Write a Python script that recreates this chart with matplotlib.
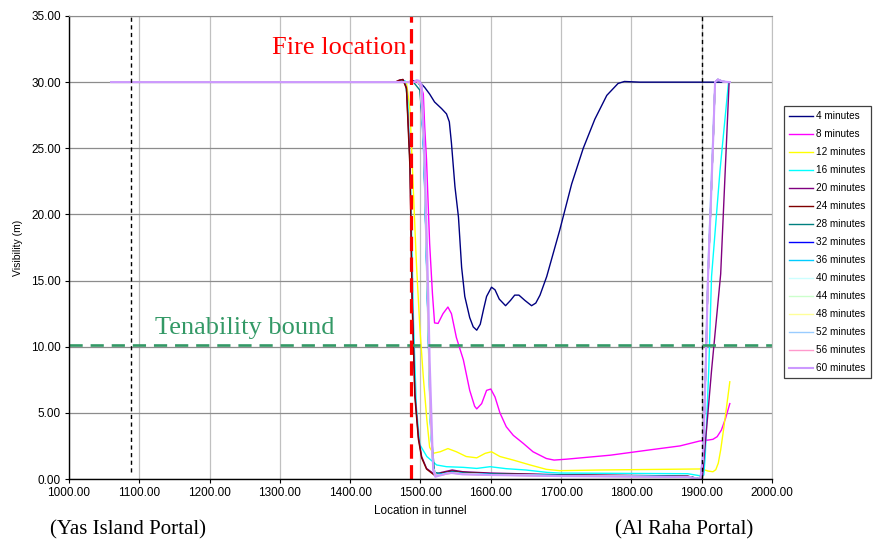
import matplotlib
matplotlib.use("Agg")
import matplotlib.pyplot as plt

# ---------------- data ----------------
labels = ["4 minutes", "8 minutes", "12 minutes", "16 minutes", "20 minutes",
          "24 minutes", "28 minutes", "32 minutes", "36 minutes", "40 minutes",
          "44 minutes", "48 minutes", "52 minutes", "56 minutes", "60 minutes"]
colors = ["#000080", "#FF00FF", "#FFFF00", "#00FFFF", "#800080",
          "#800000", "#008080", "#0000FF", "#00CCFF", "#CCFFFF",
          "#CCFFCC", "#FFFF99", "#99CCFF", "#FF99CC", "#CC99FF"]

x04 = [1060, 1480, 1490, 1499, 1506, 1513, 1520, 1530, 1537, 1541, 1544, 1549, 1554, 1558.5, 1563,
       1570, 1575, 1580, 1585, 1590, 1594, 1601, 1606, 1612, 1621, 1628, 1634, 1640, 1648.5, 1658,
       1664, 1670, 1679.5, 1689, 1698, 1715, 1731.5, 1748, 1765, 1781, 1790, 1812, 1940]
y04 = [30, 30, 30.1, 30.0, 29.6, 29.1, 28.5, 28.0, 27.6, 27.0, 25.4, 22.1, 19.8, 16.0, 13.8,
       12.2, 11.5, 11.25, 11.7, 12.9, 13.8, 14.5, 14.3, 13.6, 13.1, 13.5, 13.9, 13.9, 13.5, 13.1,
       13.3, 13.9, 15.3, 17.1, 18.8, 22.3, 25.0, 27.2, 29.0, 29.9, 30.05, 30, 30]

x08 = [1060, 1499, 1504, 1506, 1508.6, 1513, 1517, 1520, 1525, 1532, 1539, 1544, 1551, 1561, 1570,
       1577, 1580, 1587, 1594, 1600, 1606, 1613, 1622, 1632, 1646, 1660, 1679, 1690, 1708, 1770,
       1826, 1869, 1897, 1910, 1916, 1922, 1928, 1934, 1940]
y08 = [30, 30, 29.1, 26.6, 24.1, 17.8, 14.0, 11.8, 11.76, 12.5, 13.0, 12.5, 10.7, 9.0, 6.7,
       5.5, 5.3, 5.7, 6.7, 6.8, 6.2, 5.0, 3.95, 3.3, 2.7, 2.06, 1.55, 1.43, 1.5, 1.8,
       2.2, 2.5, 2.87, 2.95, 3.0, 3.2, 3.7, 4.6, 5.7]

x12 = [1060, 1480, 1485, 1490, 1494, 1499, 1504, 1509, 1513, 1518, 1528, 1539, 1551, 1565, 1580,
       1592, 1601, 1613, 1632, 1656, 1679, 1698, 1755, 1900, 1909, 1916, 1920, 1923.6, 1927, 1931,
       1935, 1940]
y12 = [30, 30, 27.9, 21.6, 16.5, 11.5, 7.7, 4.5, 2.4, 1.94, 2.06, 2.3, 2.06, 1.7, 1.6,
       1.94, 2.06, 1.7, 1.43, 1.06, 0.73, 0.63, 0.68, 0.76, 0.6, 0.55, 0.7, 1.2, 2.2, 3.7,
       5.3, 7.35]

x16 = [1060, 1466, 1472, 1478, 1482, 1486, 1490, 1494, 1499, 1509, 1523, 1537, 1561, 1580, 1599, 1622,
       1650, 1680, 1698, 1800, 1880, 1897, 1903, 1905, 1910, 1914, 1926, 1938, 1940]
y16 = [30, 30, 30.15, 30.1, 28.5, 22.0, 12.0, 5.5, 2.6, 1.7, 1.06, 0.93, 0.88, 0.8, 0.93, 0.78,
       0.68, 0.5, 0.45, 0.42, 0.4, 0.25, 0.3, 1.7, 8.2, 15.3, 23.3, 29.9, 30]

x20 = [1060, 1464, 1470, 1475, 1480, 1485, 1488, 1492, 1497, 1501.6, 1508.6, 1520, 1530, 1545, 1560,
       1600, 1700, 1800, 1880, 1896, 1901, 1914, 1927, 1939, 1940]
y20 = [30, 30, 30.15, 30.2, 29.6, 24.1, 14.0, 6.5, 3.2, 1.7, 0.8, 0.35, 0.5, 0.68, 0.55,
       0.45, 0.32, 0.27, 0.22, 0.02, 0.1, 8.2, 15.5, 30, 30]

x24 = [1060, 1464, 1470, 1475, 1480, 1485, 1488, 1492, 1497, 1501.6, 1508.6, 1520, 1530, 1545, 1560,
       1600, 1700, 1800, 1880, 1898, 1902, 1905.6, 1909, 1913, 1916.5, 1919, 1923, 1930, 1940]
y24 = [30, 30, 30.15, 30.2, 29.5, 23.5, 13.5, 6.2, 3.0, 1.6, 0.75, 0.28, 0.45, 0.6, 0.5,
       0.4, 0.3, 0.25, 0.2, 0.0, 1.7, 8.2, 15.3, 20.8, 25.9, 30.0, 30.2, 30.05, 30]

x28 = [1060, 1490, 1499, 1504, 1508, 1512, 1516, 1520, 1530, 1545, 1560, 1600, 1700, 1800, 1880,
       1898, 1902, 1905.6, 1909, 1913, 1916.5, 1919, 1923, 1930, 1940]
y28 = [30, 30, 29.4, 26.0, 18.0, 9.0, 3.0, 0.5, 0.4, 0.55, 0.45, 0.38, 0.28, 0.23, 0.18,
       0.0, 1.7, 8.2, 15.3, 20.8, 25.9, 30.0, 30.2, 30.05, 30]

x32 = [1060, 1490, 1495, 1500, 1505, 1510, 1514, 1518, 1521, 1530, 1545, 1560, 1600, 1700, 1800,
       1880, 1898, 1902, 1905.6, 1909, 1913, 1916.5, 1919, 1923, 1930, 1940]
y32 = [30, 30, 30.1, 29.7, 24.5, 13.5, 4.5, 0.8, 0.3, 0.35, 0.5, 0.4, 0.33, 0.25, 0.2,
       0.17, 0.0, 1.7, 8.2, 15.3, 20.8, 25.9, 30.0, 30.2, 30.05, 30]

x36 = [1060, 1490, 1495, 1500, 1505, 1510, 1514, 1518, 1522, 1530, 1545, 1560, 1600, 1700, 1800,
       1880, 1898, 1902, 1905.6, 1909, 1913, 1916.5, 1919, 1923, 1930, 1940]
y36 = [30, 30, 30.1, 29.7, 24.0, 13.0, 4.2, 0.9, 0.35, 0.38, 0.5, 0.42, 0.35, 0.27, 0.22,
       0.18, 0.0, 1.7, 8.2, 15.3, 20.8, 25.9, 30.0, 30.2, 30.05, 30]

x40 = [1060, 1490, 1495, 1500, 1505, 1510, 1514, 1518, 1522, 1530, 1545, 1560, 1600, 1700, 1800,
       1880, 1898, 1902, 1905.6, 1909, 1913, 1916.5, 1919, 1923, 1930, 1940]
y40 = [30, 30, 30.1, 29.8, 24.8, 13.8, 4.6, 0.8, 0.3, 0.33, 0.47, 0.4, 0.32, 0.25, 0.2,
       0.16, 0.0, 1.7, 8.2, 15.3, 20.8, 25.9, 30.0, 30.2, 30.05, 30]

x44 = [1060, 1490, 1495, 1500, 1505, 1510, 1514, 1518, 1522, 1530, 1545, 1560, 1600, 1700, 1800,
       1880, 1898, 1902, 1905.6, 1909, 1913, 1916.5, 1919, 1923, 1930, 1940]
y44 = [30, 30, 30.1, 29.8, 25.0, 14.0, 4.8, 0.8, 0.3, 0.32, 0.46, 0.38, 0.31, 0.24, 0.19,
       0.16, 0.0, 1.7, 8.2, 15.3, 20.8, 25.9, 30.0, 30.2, 30.05, 30]

x48 = [1060, 1490, 1495, 1500, 1505, 1510, 1514, 1518, 1522, 1530, 1545, 1560, 1600, 1700, 1800,
       1880, 1898, 1902, 1905.6, 1909, 1913, 1916.5, 1919, 1923, 1930, 1940]
y48 = [30, 30, 30.1, 29.8, 25.2, 14.2, 5.0, 0.8, 0.3, 0.31, 0.46, 0.37, 0.3, 0.23, 0.19,
       0.15, 0.0, 1.7, 8.2, 15.3, 20.8, 25.9, 30.0, 30.2, 30.05, 30]

x52 = [1060, 1490, 1495, 1500, 1505, 1510, 1514, 1518, 1522, 1530, 1545, 1560, 1600, 1700, 1800,
       1880, 1898, 1902, 1905.6, 1909, 1913, 1916.5, 1919, 1923, 1930, 1940]
y52 = [30, 30, 30.1, 29.8, 25.5, 14.5, 5.2, 0.8, 0.3, 0.31, 0.45, 0.37, 0.3, 0.23, 0.18,
       0.15, 0.0, 2.2, 9.0, 16.2, 21.8, 26.8, 30.0, 30.2, 30.05, 30]

x56 = [1060, 1490, 1495, 1500, 1505, 1510, 1514, 1518, 1522, 1530, 1545, 1560, 1600, 1700, 1800,
       1880, 1898, 1902, 1905.6, 1909, 1913, 1916.5, 1919, 1923, 1930, 1940]
y56 = [30, 30, 30.1, 29.8, 25.6, 14.6, 5.3, 0.8, 0.25, 0.3, 0.45, 0.36, 0.3, 0.22, 0.18,
       0.15, 0.0, 1.7, 8.2, 15.3, 20.8, 25.9, 30.0, 30.2, 30.05, 30]

x60 = [1060, 1490, 1494.5, 1498, 1501.6, 1506, 1511, 1513, 1516, 1518, 1521, 1530, 1539, 1545, 1560,
       1600, 1700, 1800, 1880, 1898, 1902, 1905.6, 1909, 1913, 1916.5, 1919, 1923, 1930, 1940]
y60 = [30, 30, 30.15, 30.1, 29.8, 24.1, 14.0, 9.0, 4.0, 0.68, 0.17, 0.3, 0.45, 0.45, 0.35,
       0.3, 0.22, 0.18, 0.15, 0.0, 1.7, 8.2, 15.3, 20.8, 25.9, 30.0, 30.2, 30.05, 30]

series_x = [x04, x08, x12, x16, x20, x24, x28, x32, x36, x40, x44, x48, x52, x56, x60]
series_y = [y04, y08, y12, y16, y20, y24, y28, y32, y36, y40, y44, y48, y52, y56, y60]

yas_portal_x = 1088
raha_portal_x = 1900
fire_x = 1486
tenability = 10.1

xticks = [1000, 1100, 1200, 1300, 1400, 1500, 1600, 1700, 1800, 1900, 2000]
yticks = [0, 5, 10, 15, 20, 25, 30, 35]

# ---------------- plot ----------------
plt.rcParams['font.family'] = ['Liberation Sans', 'DejaVu Sans']
fig = plt.figure(figsize=(8.79, 5.44), dpi=100)
ax = fig.add_axes([69 / 879, 1 - 479 / 544, (772 - 69) / 879, (479 - 16) / 544])

ax.set_xlim(1000, 2000)
ax.set_ylim(0, 35)
ax.set_xticks(xticks)
ax.set_yticks(yticks)
ax.set_xticklabels([f"{v:.2f}" for v in xticks])
ax.set_yticklabels([f"{v:.2f}" for v in yticks])
ax.tick_params(axis='both', labelsize=8.5, direction='out', length=3, width=0.8, pad=3, colors='black')

ax.set_axisbelow(True)
ax.yaxis.grid(True, color='#8c8c8c', lw=0.9)
ax.xaxis.grid(True, color='#c0c0c0', lw=0.9)
ax.spines['top'].set_color('#8c8c8c')
ax.spines['right'].set_color('#c0c0c0')
ax.spines['left'].set_linewidth(1.0)
ax.spines['bottom'].set_linewidth(1.0)

for xs, ys, c, lab in zip(series_x, series_y, colors, labels):
    lw = 1.5 if lab == "60 minutes" else 1.0
    ax.plot(xs, ys, color=c, lw=lw, label=lab, solid_joinstyle='round')

# reference lines
ax.axvline(yas_portal_x, ymin=0.5 / 35, ymax=1, color='black', lw=1.0, ls=(0, (3, 2.5)))
ax.axvline(raha_portal_x, color='black', lw=1.0, ls=(0, (3, 2.5)))
ax.axhline(tenability, color='#339966', lw=1.9, ls=(0, (5, 3)))
ax.axvline(fire_x, color='#FF0000', lw=2.3, ls=(0, (4.5, 2)))

ax.text(1289, 32.6, "Fire location", color='#FF0000', fontsize=19,
        family=['Liberation Serif', 'DejaVu Serif'], va='center', ha='left')
ax.text(1122, 11.4, "Tenability bound", color='#339966', fontsize=19,
        family=['Liberation Serif', 'DejaVu Serif'], va='center', ha='left')

fig.text(50 / 879, 1 - 530 / 544, "(Yas Island Portal)", fontsize=15,
         family=['Liberation Serif', 'DejaVu Serif'], va='center', ha='left')
fig.text(615 / 879, 1 - 530 / 544, "(Al Raha Portal)", fontsize=15,
         family=['Liberation Serif', 'DejaVu Serif'], va='center', ha='left')

ax.set_xlabel("Location in tunnel", fontsize=8.5, labelpad=4)
ax.set_ylabel("Visibility (m)", fontsize=7.5, labelpad=6)

leg = ax.legend(loc='upper left', bbox_to_anchor=(784 / 879, 1 - 106 / 544),
                bbox_transform=fig.transFigure, borderaxespad=0, fontsize=7.2,
                frameon=True, fancybox=False, edgecolor='#404040', framealpha=1,
                handlelength=2.4, handletextpad=0.35, labelspacing=0.8, borderpad=0.5)
leg.get_frame().set_linewidth(0.9)

fig.savefig("out.png", dpi=100)
